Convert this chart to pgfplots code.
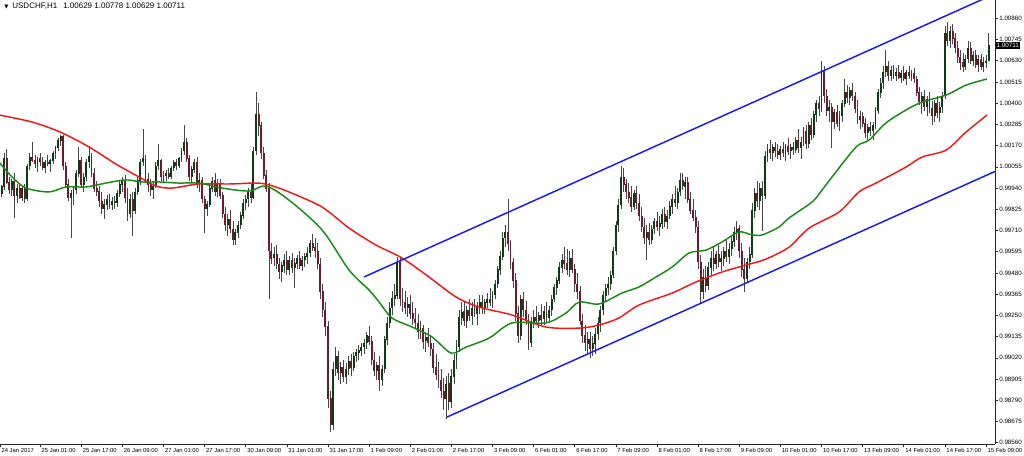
\documentclass[border=0pt]{standalone}
\usepackage{pgfplots}
\pgfplotsset{compat=1.18}
\usepackage{pgfplotstable}
\usepackage{fontspec}
\setmainfont{Liberation Sans}
\newfontfamily\dejavu{DejaVu Sans}

\definecolor{bullbody}{RGB}{12,60,20}
\definecolor{bearbody}{RGB}{112,24,46}
\definecolor{wick}{RGB}{70,70,70}
\definecolor{maRed}{RGB}{240,25,25}
\definecolor{maGreen}{RGB}{25,135,25}
\definecolor{chanBlue}{RGB}{25,25,240}

% USDCHF H1 candles, one row per bar (open high low close)
\pgfplotstableread{
o h l c
0.9994 0.9998 0.9988 0.9991
0.9991 0.9996 0.9989 0.9995
0.9995 1.0013 0.9993 1.0010
1.0010 1.0015 0.9996 0.9997
0.9997 1.0000 0.9991 0.9993
0.9993 0.9999 0.9990 0.9998
0.9998 1.0002 0.9978 0.9990
0.9990 0.9996 0.9986 0.9994
0.9994 0.9997 0.9988 0.9989
0.9989 0.9995 0.9987 0.9994
0.9994 0.9996 0.9986 0.9988
0.9988 1.0007 0.9987 1.0006
1.0006 1.0013 1.0004 1.0011
1.0011 1.0019 1.0008 1.0009
1.0009 1.0012 1.0005 1.0007
1.0007 1.0011 1.0003 1.0010
1.0010 1.0013 1.0006 1.0008
1.0008 1.0011 1.0004 1.0005
1.0005 1.0009 1.0002 1.0008
1.0008 1.0012 1.0006 1.0007
1.0007 1.0010 1.0003 1.0009
1.0009 1.0014 1.0007 1.0013
1.0013 1.0017 1.0010 1.0016
1.0016 1.0021 1.0014 1.0020
1.0020 1.0023 1.0017 1.0022
1.0022 1.0023 1.0004 1.0006
1.0006 1.0008 0.9994 0.9996
0.9996 0.9999 0.9987 0.9989
0.9989 0.9993 0.9967 0.9991
0.9991 0.9995 0.9985 0.9993
0.9993 1.0004 0.9991 1.0002
1.0002 1.0016 1.0000 1.0009
1.0009 1.0011 0.9994 0.9996
0.9996 1.0002 0.9992 1.0000
1.0000 1.0010 0.9998 1.0008
1.0008 1.0017 1.0005 1.0011
1.0011 1.0013 1.0000 1.0002
1.0002 1.0005 0.9992 0.9994
0.9994 0.9998 0.9990 0.9992
0.9992 0.9995 0.9984 0.9987
0.9987 0.9992 0.9980 0.9983
0.9983 0.9988 0.9977 0.9985
0.9985 0.9990 0.9982 0.9988
0.9988 0.9991 0.9983 0.9985
0.9985 0.9989 0.9982 0.9987
0.9987 0.9990 0.9983 0.9986
0.9986 0.9993 0.9984 0.9991
0.9991 0.9998 0.9989 0.9996
0.9996 1.0000 0.9992 0.9998
0.9998 1.0001 0.9986 0.9989
0.9989 0.9994 0.9976 0.9980
0.9980 0.9991 0.9978 0.9988
0.9988 0.9992 0.9968 0.9982
0.9982 0.9994 0.9980 0.9992
0.9992 1.0000 0.9990 0.9998
0.9998 1.0010 0.9996 1.0008
1.0008 1.0026 1.0006 1.0010
1.0010 1.0012 0.9997 0.9999
0.9999 1.0002 0.9992 0.9996
0.9996 0.9999 0.9990 0.9993
0.9993 0.9998 0.9988 0.9995
0.9995 1.0008 0.9994 1.0006
1.0006 1.0018 1.0004 1.0009
1.0009 1.0010 0.9998 1.0000
1.0000 1.0003 0.9997 1.0001
1.0001 1.0004 0.9998 1.0002
1.0002 1.0005 0.9999 1.0000
1.0000 1.0006 0.9999 1.0005
1.0005 1.0009 1.0003 1.0008
1.0008 1.0010 1.0004 1.0006
1.0006 1.0011 1.0005 1.0010
1.0010 1.0016 1.0008 1.0014
1.0014 1.0028 1.0012 1.0019
1.0019 1.0021 1.0008 1.0010
1.0010 1.0012 0.9998 1.0000
1.0000 1.0006 0.9997 1.0004
1.0004 1.0010 1.0002 1.0008
1.0008 1.0011 0.9994 0.9996
0.9996 1.0002 0.9992 0.9998
0.9998 1.0000 0.9986 0.9988
0.9988 0.9990 0.9970 0.9983
0.9983 0.9987 0.9979 0.9985
0.9985 0.9996 0.9984 0.9994
0.9994 1.0000 0.9992 0.9998
0.9998 1.0002 0.9990 0.9992
0.9992 0.9999 0.9989 0.9996
0.9996 0.9999 0.9988 0.9990
0.9990 0.9992 0.9978 0.9980
0.9980 0.9984 0.9971 0.9974
0.9974 0.9980 0.9968 0.9977
0.9977 0.9982 0.9970 0.9972
0.9972 0.9976 0.9963 0.9966
0.9966 0.9972 0.9963 0.9970
0.9970 0.9976 0.9967 0.9974
0.9974 0.9981 0.9972 0.9979
0.9979 0.9988 0.9977 0.9986
0.9986 0.9990 0.9982 0.9988
0.9988 0.9994 0.9984 0.9992
0.9992 0.9997 0.9986 0.9989
0.9989 1.0016 0.9988 1.0014
1.0014 1.0046 1.0012 1.0034
1.0034 1.0040 1.0022 1.0028
1.0028 1.0030 1.0010 1.0013
1.0013 1.0016 0.9999 1.0001
1.0001 1.0004 0.9992 0.9994
0.9994 0.9997 0.9934 0.9960
0.9960 0.9964 0.9953 0.9956
0.9956 0.9962 0.9952 0.9958
0.9958 0.9963 0.9950 0.9953
0.9953 0.9956 0.9945 0.9949
0.9949 0.9954 0.9943 0.9952
0.9952 0.9958 0.9948 0.9955
0.9955 0.9960 0.9947 0.9950
0.9950 0.9957 0.9947 0.9955
0.9955 0.9959 0.9948 0.9951
0.9951 0.9956 0.9940 0.9953
0.9953 0.9958 0.9950 0.9956
0.9956 0.9960 0.9950 0.9952
0.9952 0.9957 0.9949 0.9955
0.9955 0.9959 0.9951 0.9957
0.9957 0.9962 0.9953 0.9959
0.9959 0.9966 0.9957 0.9964
0.9964 0.9969 0.9960 0.9962
0.9962 0.9967 0.9956 0.9960
0.9960 0.9964 0.9950 0.9953
0.9953 0.9956 0.9934 0.9938
0.9938 0.9942 0.9924 0.9928
0.9928 0.9932 0.9914 0.9919
0.9919 0.9922 0.9875 0.9880
0.9880 0.9884 0.9862 0.9866
0.9866 0.9900 0.9863 0.9896
0.9896 0.9908 0.9892 0.9903
0.9903 0.9906 0.9890 0.9894
0.9894 0.9900 0.9888 0.9897
0.9897 0.9901 0.9889 0.9892
0.9892 0.9899 0.9888 0.9896
0.9896 0.9903 0.9893 0.9900
0.9900 0.9904 0.9892 0.9897
0.9897 0.9905 0.9895 0.9903
0.9903 0.9907 0.9900 0.9905
0.9905 0.9909 0.9901 0.9906
0.9906 0.9910 0.9903 0.9908
0.9908 0.9912 0.9904 0.9910
0.9910 0.9916 0.9907 0.9914
0.9914 0.9919 0.9909 0.9911
0.9911 0.9914 0.9898 0.9901
0.9901 0.9905 0.9892 0.9895
0.9895 0.9900 0.9890 0.9898
0.9898 0.9903 0.9884 0.9890
0.9890 0.9898 0.9887 0.9896
0.9896 0.9914 0.9894 0.9912
0.9912 0.9924 0.9909 0.9921
0.9921 0.9932 0.9918 0.9929
0.9929 0.9938 0.9925 0.9934
0.9934 0.9942 0.9930 0.9936
0.9936 0.9957 0.9934 0.9954
0.9954 0.9956 0.9930 0.9934
0.9934 0.9940 0.9927 0.9932
0.9932 0.9938 0.9926 0.9929
0.9929 0.9935 0.9924 0.9931
0.9931 0.9936 0.9923 0.9926
0.9926 0.9932 0.9920 0.9923
0.9923 0.9929 0.9918 0.9921
0.9921 0.9926 0.9912 0.9916
0.9916 0.9922 0.9912 0.9918
0.9918 0.9920 0.9907 0.9911
0.9911 0.9916 0.9905 0.9913
0.9913 0.9918 0.9908 0.9910
0.9910 0.9914 0.9903 0.9907
0.9907 0.9910 0.9894 0.9897
0.9897 0.9904 0.9890 0.9893
0.9893 0.9900 0.9886 0.9890
0.9890 0.9896 0.9880 0.9884
0.9884 0.9891 0.9874 0.9880
0.9880 0.9892 0.9869 0.9888
0.9888 0.9894 0.9874 0.9878
0.9878 0.9896 0.9875 0.9892
0.9892 0.9904 0.9888 0.9901
0.9901 0.9912 0.9896 0.9908
0.9908 0.9928 0.9905 0.9924
0.9924 0.9932 0.9920 0.9927
0.9927 0.9933 0.9919 0.9922
0.9922 0.9930 0.9918 0.9928
0.9928 0.9934 0.9922 0.9925
0.9925 0.9932 0.9920 0.9929
0.9929 0.9934 0.9924 0.9926
0.9926 0.9932 0.9920 0.9930
0.9930 0.9936 0.9926 0.9932
0.9932 0.9936 0.9926 0.9929
0.9929 0.9934 0.9926 0.9932
0.9932 0.9937 0.9929 0.9934
0.9934 0.9940 0.9930 0.9932
0.9932 0.9938 0.9929 0.9936
0.9936 0.9944 0.9934 0.9942
0.9942 0.9952 0.9940 0.9950
0.9950 0.9960 0.9947 0.9957
0.9957 0.9970 0.9955 0.9967
0.9967 0.9974 0.9962 0.9970
0.9970 0.9988 0.9960 0.9964
0.9964 0.9966 0.9950 0.9954
0.9954 0.9956 0.9940 0.9944
0.9944 0.9948 0.9922 0.9926
0.9926 0.9930 0.9910 0.9914
0.9914 0.9936 0.9912 0.9934
0.9934 0.9938 0.9924 0.9928
0.9928 0.9933 0.9920 0.9923
0.9923 0.9926 0.9906 0.9910
0.9910 0.9924 0.9908 0.9921
0.9921 0.9928 0.9918 0.9924
0.9924 0.9930 0.9920 0.9922
0.9922 0.9927 0.9918 0.9925
0.9925 0.9931 0.9920 0.9923
0.9923 0.9930 0.9920 0.9927
0.9927 0.9932 0.9921 0.9924
0.9924 0.9930 0.9921 0.9928
0.9928 0.9936 0.9925 0.9934
0.9934 0.9942 0.9932 0.9940
0.9940 0.9946 0.9936 0.9944
0.9944 0.9954 0.9942 0.9951
0.9951 0.9958 0.9948 0.9955
0.9955 0.9962 0.9950 0.9953
0.9953 0.9961 0.9947 0.9950
0.9950 0.9960 0.9946 0.9956
0.9956 0.9961 0.9948 0.9950
0.9950 0.9953 0.9938 0.9942
0.9942 0.9948 0.9934 0.9938
0.9938 0.9941 0.9920 0.9922
0.9922 0.9926 0.9910 0.9914
0.9914 0.9920 0.9906 0.9910
0.9910 0.9916 0.9904 0.9912
0.9912 0.9916 0.9902 0.9907
0.9907 0.9914 0.9903 0.9910
0.9910 0.9918 0.9904 0.9915
0.9915 0.9924 0.9912 0.9921
0.9921 0.9930 0.9916 0.9928
0.9928 0.9938 0.9925 0.9936
0.9936 0.9942 0.9933 0.9940
0.9940 0.9946 0.9936 0.9942
0.9942 0.9949 0.9939 0.9947
0.9947 0.9962 0.9945 0.9960
0.9960 0.9976 0.9958 0.9974
0.9974 0.9988 0.9970 0.9985
0.9985 1.0006 0.9983 1.0000
1.0000 1.0005 0.9992 0.9996
0.9996 0.9999 0.9988 0.9992
0.9992 0.9997 0.9986 0.9989
0.9989 0.9995 0.9981 0.9984
0.9984 0.9993 0.9982 0.9991
0.9991 0.9995 0.9983 0.9986
0.9986 0.9991 0.9976 0.9979
0.9979 0.9984 0.9970 0.9973
0.9973 0.9978 0.9964 0.9967
0.9967 0.9974 0.9955 0.9970
0.9970 0.9975 0.9963 0.9966
0.9966 0.9974 0.9964 0.9972
0.9972 0.9978 0.9969 0.9976
0.9976 0.9981 0.9971 0.9973
0.9973 0.9979 0.9968 0.9975
0.9975 0.9983 0.9972 0.9980
0.9980 0.9984 0.9973 0.9976
0.9976 0.9982 0.9972 0.9979
0.9979 0.9987 0.9977 0.9984
0.9984 0.9991 0.9980 0.9988
0.9988 0.9995 0.9984 0.9986
0.9986 0.9994 0.9983 0.9992
0.9992 1.0002 0.9990 0.9998
0.9998 1.0002 0.9993 0.9995
0.9995 1.0000 0.9988 0.9997
0.9997 1.0000 0.9986 0.9988
0.9988 0.9992 0.9980 0.9982
0.9982 0.9988 0.9976 0.9978
0.9978 0.9982 0.9970 0.9973
0.9973 0.9976 0.9950 0.9954
0.9954 0.9958 0.9932 0.9938
0.9938 0.9950 0.9934 0.9946
0.9946 0.9952 0.9938 0.9941
0.9941 0.9954 0.9939 0.9951
0.9951 0.9960 0.9947 0.9956
0.9956 0.9962 0.9949 0.9953
0.9953 0.9960 0.9950 0.9958
0.9958 0.9963 0.9951 0.9954
0.9954 0.9960 0.9949 0.9956
0.9956 0.9962 0.9952 0.9960
0.9960 0.9966 0.9954 0.9957
0.9957 0.9964 0.9953 0.9961
0.9961 0.9968 0.9957 0.9965
0.9965 0.9973 0.9962 0.9970
0.9970 0.9976 0.9966 0.9972
0.9972 0.9974 0.9956 0.9960
0.9960 0.9964 0.9946 0.9950
0.9950 0.9956 0.9938 0.9945
0.9945 0.9956 0.9943 0.9954
0.9954 0.9962 0.9950 0.9958
0.9958 0.9986 0.9956 0.9982
0.9982 0.9994 0.9978 0.9991
0.9991 0.9998 0.9984 0.9987
0.9987 0.9997 0.9982 0.9994
0.9994 0.9998 0.9971 0.9990
0.9990 1.0014 0.9988 1.0011
1.0011 1.0018 1.0008 1.0015
1.0015 1.0020 1.0010 1.0013
1.0013 1.0018 1.0009 1.0016
1.0016 1.0019 1.0011 1.0014
1.0014 1.0018 1.0010 1.0012
1.0012 1.0017 1.0009 1.0015
1.0015 1.0019 1.0011 1.0013
1.0013 1.0018 1.0009 1.0017
1.0017 1.0021 1.0012 1.0014
1.0014 1.0018 1.0010 1.0016
1.0016 1.0019 1.0012 1.0015
1.0015 1.0022 1.0013 1.0020
1.0020 1.0026 1.0013 1.0016
1.0016 1.0022 1.0010 1.0019
1.0019 1.0027 1.0017 1.0025
1.0025 1.0028 1.0015 1.0018
1.0018 1.0030 1.0016 1.0028
1.0028 1.0032 1.0020 1.0023
1.0023 1.0036 1.0021 1.0034
1.0034 1.0042 1.0030 1.0040
1.0040 1.0044 1.0033 1.0037
1.0037 1.0063 1.0035 1.0058
1.0058 1.0060 1.0040 1.0044
1.0044 1.0048 1.0033 1.0036
1.0036 1.0042 1.0030 1.0038
1.0038 1.0040 1.0016 1.0030
1.0030 1.0037 1.0026 1.0035
1.0035 1.0039 1.0027 1.0029
1.0029 1.0036 1.0025 1.0033
1.0033 1.0042 1.0030 1.0040
1.0040 1.0053 1.0038 1.0046
1.0046 1.0050 1.0040 1.0043
1.0043 1.0049 1.0039 1.0047
1.0047 1.0051 1.0041 1.0044
1.0044 1.0046 1.0035 1.0037
1.0037 1.0042 1.0029 1.0031
1.0031 1.0036 1.0026 1.0033
1.0033 1.0035 1.0027 1.0029
1.0029 1.0032 1.0021 1.0024
1.0024 1.0029 1.0020 1.0027
1.0027 1.0030 1.0022 1.0025
1.0025 1.0030 1.0020 1.0028
1.0028 1.0038 1.0026 1.0036
1.0036 1.0048 1.0034 1.0046
1.0046 1.0054 1.0043 1.0051
1.0051 1.0060 1.0048 1.0057
1.0057 1.0069 1.0054 1.0060
1.0060 1.0063 1.0052 1.0055
1.0055 1.0060 1.0052 1.0058
1.0058 1.0061 1.0053 1.0055
1.0055 1.0059 1.0052 1.0057
1.0057 1.0061 1.0053 1.0054
1.0054 1.0058 1.0051 1.0056
1.0056 1.0060 1.0052 1.0053
1.0053 1.0058 1.0050 1.0057
1.0057 1.0060 1.0053 1.0055
1.0055 1.0058 1.0052 1.0056
1.0056 1.0059 1.0051 1.0053
1.0053 1.0055 1.0044 1.0046
1.0046 1.0049 1.0039 1.0041
1.0041 1.0046 1.0034 1.0044
1.0044 1.0047 1.0036 1.0038
1.0038 1.0044 1.0033 1.0042
1.0042 1.0046 1.0035 1.0037
1.0037 1.0041 1.0028 1.0033
1.0033 1.0042 1.0030 1.0040
1.0040 1.0044 1.0032 1.0035
1.0035 1.0041 1.0030 1.0038
1.0038 1.0046 1.0035 1.0044
1.0044 1.0082 1.0042 1.0078
1.0078 1.0084 1.0071 1.0074
1.0074 1.0082 1.0070 1.0079
1.0079 1.0083 1.0072 1.0075
1.0075 1.0078 1.0067 1.0070
1.0070 1.0074 1.0062 1.0065
1.0065 1.0069 1.0058 1.0062
1.0062 1.0067 1.0057 1.0060
1.0060 1.0066 1.0058 1.0064
1.0064 1.0074 1.0062 1.0070
1.0070 1.0073 1.0061 1.0063
1.0063 1.0068 1.0060 1.0066
1.0066 1.0069 1.0059 1.0061
1.0061 1.0066 1.0057 1.0064
1.0064 1.0067 1.0058 1.0060
1.0060 1.0065 1.0057 1.0062
1.0062 1.0066 1.0059 1.0063
1.00629 1.00778 1.00629 1.00711
}\candles

% slow moving average (red)
\pgfplotstableread{
x y
0 1.00336
12.8 1.00298
23.7 1.00244
35.0 1.00163
45.5 1.00070
54.5 1.00000
61.1 0.99951
67.3 0.99940
77.8 0.99962
89.5 0.99962
100.0 0.99967
105.1 0.99957
112.8 0.99919
125.7 0.99837
136.2 0.99723
146.7 0.99631
156.8 0.99561
167.3 0.99458
177.8 0.99350
186.8 0.99295
199.6 0.99252
212.8 0.99187
225.7 0.99181
233.5 0.99198
241.2 0.99236
249.0 0.99306
261.9 0.99371
271.2 0.99431
281.3 0.99485
290.7 0.99523
298.4 0.99555
307.4 0.99620
315.2 0.99723
326.8 0.99810
334.6 0.99919
341.2 0.99967
352.9 1.00054
359.1 1.00108
368.5 1.00146
376.3 1.00244
384.4 1.00336
}\maslow

% fast moving average (green)
\pgfplotstableread{
x y
0 1.00081
5.1 1.00000
10.5 0.99940
19.5 0.99919
26.1 0.99946
33.9 0.99946
41.6 0.99967
49.4 0.99984
55.6 0.99973
62.3 0.99973
70.0 0.99967
77.8 0.99967
86.8 0.99940
97.3 0.99924
103.9 0.99951
112.8 0.99875
125.7 0.99713
136.2 0.99496
144.0 0.99387
147.9 0.99322
152.9 0.99236
160.7 0.99187
168.5 0.99133
175.9 0.99046
181.7 0.99078
190.7 0.99127
199.6 0.99209
212.8 0.99209
220.6 0.99263
225.7 0.99322
233.5 0.99312
242.4 0.99371
249.0 0.99404
255.6 0.99458
261.9 0.99512
268.5 0.99588
275.1 0.99604
281.3 0.99648
287.9 0.99702
293.0 0.99686
296.9 0.99686
303.5 0.99729
307.4 0.99778
316.3 0.99864
320.2 0.99929
324.1 1.00000
333.5 1.00163
338.5 1.00200
345.1 1.00293
352.9 1.00363
359.1 1.00406
368.5 1.00444
376.3 1.00498
384.4 1.00531
}\mafast

\begin{document}
\begin{tikzpicture}
\begin{axis}[
    name=ax, at={(0,0)}, anchor=south west,
    scale only axis, width=746.25pt, height=333pt,
    xmin=0.4, xmax=387.5, ymin=0.98553, ymax=1.00959,
    axis x line=bottom, axis y line=right,
    axis line style={-, black!85, line width=0.6pt},
    tick align=outside, major tick length=2pt,
    tick style={black!85, line width=0.4pt},
    xtick={0.4,16,32,48,64,80,96,112,128,144,160,176,192,208,224,240,256,272,288,304,320,336,352,368,384},
    xticklabels={24 Jan 2017,25 Jan 01:00,25 Jan 17:00,26 Jan 09:00,27 Jan 01:00,27 Jan 17:00,30 Jan 09:00,31 Jan 01:00,31 Jan 17:00,1 Feb 09:00,2 Feb 01:00,2 Feb 17:00,3 Feb 09:00,6 Feb 01:00,6 Feb 17:00,7 Feb 09:00,8 Feb 01:00,8 Feb 17:00,9 Feb 09:00,10 Feb 01:00,10 Feb 17:00,13 Feb 09:00,14 Feb 01:00,14 Feb 17:00,15 Feb 09:00},
    xticklabel style={font=\fontsize{4.4}{5}\selectfont, anchor=north west, inner sep=0pt, xshift=1pt, yshift=-1.2pt},
    ytick={0.98560,0.98675,0.98790,0.98905,0.99020,0.99135,0.99250,0.99365,0.99480,0.99595,0.99710,0.99825,0.99940,1.00055,1.00170,1.00285,1.00400,1.00515,1.00630,1.00745,1.00860},
    yticklabels={0.98560,0.98675,0.98790,0.98905,0.99020,0.99135,0.99250,0.99365,0.99480,0.99595,0.99710,0.99825,0.99940,1.00055,1.00170,1.00285,1.00400,1.00515,1.00630,1.00745,1.00860},
    yticklabel style={font=\fontsize{4.7}{5}\selectfont, anchor=west, inner sep=0pt, xshift=1pt},
]
% wicks
\addplot[draw=none, mark=none, forget plot,
    error bars/.cd, y dir=both, y explicit, error mark=none,
    error bar style={draw=wick, line width=0.55pt}]
    table[x expr=\coordindex, y expr={(\thisrow{h}+\thisrow{l})/2},
          y error expr={(\thisrow{h}-\thisrow{l})/2}] {\candles};
% bull bodies
\addplot[draw=none, mark=none, forget plot,
    error bars/.cd, y dir=both, y explicit, error mark=none,
    error bar style={draw=bullbody, line width=1.45pt}]
    table[x expr=\coordindex,
          y expr={\thisrow{c}>=\thisrow{o} ? (\thisrow{o}+\thisrow{c})/2 : nan},
          y error expr={abs(\thisrow{c}-\thisrow{o})/2+0.000015}] {\candles};
% bear bodies
\addplot[draw=none, mark=none, forget plot,
    error bars/.cd, y dir=both, y explicit, error mark=none,
    error bar style={draw=bearbody, line width=1.45pt}]
    table[x expr=\coordindex,
          y expr={\thisrow{c}<\thisrow{o} ? (\thisrow{o}+\thisrow{c})/2 : nan},
          y error expr={abs(\thisrow{c}-\thisrow{o})/2+0.000015}] {\candles};

% moving averages
\addplot[maRed, line width=1.1pt, smooth, no marks] table[x=x, y=y] {\maslow};
\addplot[maGreen, line width=1.1pt, smooth, no marks] table[x=x, y=y] {\mafast};

% channel lines
\addplot[chanBlue, line width=1.1pt, no marks] coordinates {(142.0,0.99458) (387.5,1.00993)};
\addplot[chanBlue, line width=1.1pt, no marks] coordinates {(174.3,0.98699) (387.5,1.00030)};

\coordinate (cp) at (axis cs:387.5,1.00711);
\end{axis}

% symbol, timeframe and last bar
\node[anchor=north west, inner sep=0pt, font=\fontsize{6}{7}\selectfont]
    at ([xshift=3pt, yshift=-2.3pt]ax.north west)
    {{\dejavu\fontsize{4}{5}\selectfont ▼}\hspace{3pt}USDCHF,H1\hspace{4.5pt}1.00629 1.00778 1.00629 1.00711};
% current price
\node[anchor=west, fill=black, text=white, inner xsep=0.8pt, inner ysep=0.9pt,
    font=\fontsize{4.7}{5}\selectfont] at ([xshift=0.2pt]cp) {1.00711};

\pgfresetboundingbox
\path (ax.south west) ++(0,-8.25pt) rectangle ++(768pt,341.25pt);
\end{tikzpicture}
\end{document}
